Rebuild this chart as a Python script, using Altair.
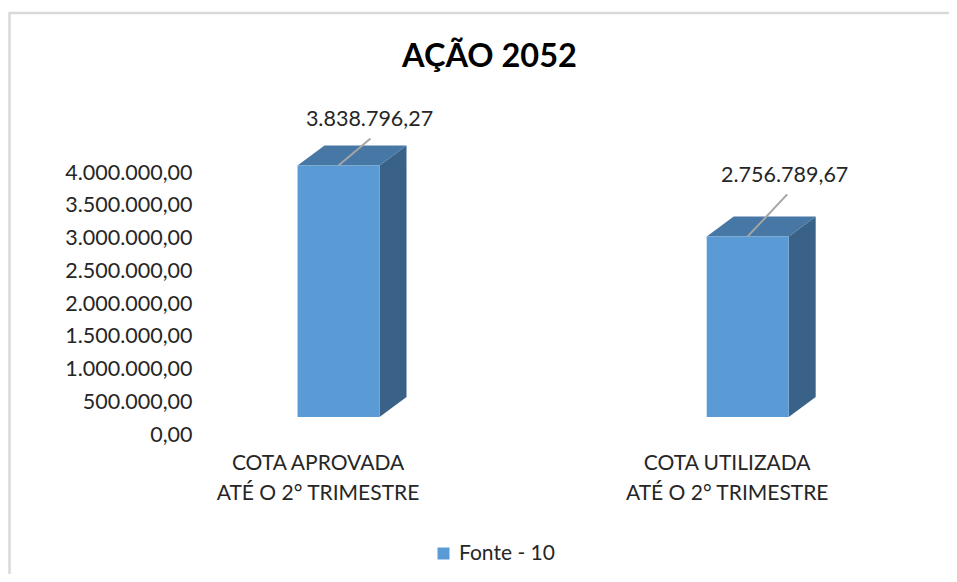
import json
import altair as alt
import pandas as pd

# ---------------- data ----------------
TITLE = "AÇÃO 2052"
CATEGORIES = [["COTA APROVADA", "ATÉ O 2° TRIMESTRE"],
              ["COTA UTILIZADA", "ATÉ O 2° TRIMESTRE"]]
VALUES = [3838796.27, 2756789.67]
SERIES = "Fonte - 10"
Y_TICKS = [0, 500000, 1000000, 1500000, 2000000, 2500000, 3000000, 3500000, 4000000]

# ---------------- layout / style ----------------
W, H = 741, 262
PAD = {"left": 191, "top": 165, "right": 9, "bottom": 139}
X_DOMAIN = [-0.341, 1.470]
Y_DOMAIN = [0, 4000000]
KX = W / (X_DOMAIN[1] - X_DOMAIN[0])      # px per x unit
KY = H / (Y_DOMAIN[1] - Y_DOMAIN[0])      # px per y unit
HALF_W_PX = 41
DEPTH_X_PX, DEPTH_Y_PX = 27, 20
LIFT_PX = 18
LEADER_END_PX = [(32, 27), (39.5, 42)]
LABEL_POS_PX = [(31, 46), (37, 60)]

FRONT = "#5B9BD5"
TOP = "#4677A5"
SIDE = "#3A6288"
TEXT = "#262626"
FONT = "Lato"
FS_NUM = 21.5
FS_TXT = 21

def br(v):
    return f"{v:,.2f}".replace(",", "#").replace(".", ",").replace("#", ".")

hw = HALF_W_PX / KX
ddx = DEPTH_X_PX / KX
ddy = DEPTH_Y_PX / KY

front_rows, side_rows, top_rows, lead_rows, lab_rows = [], [], [], [], []
for i, v in enumerate(VALUES):
    c = float(i)
    front_rows.append({"x0": c - hw, "x1": c + hw, "y0": 0.0, "y1": v, "serie": SERIES})
    side_rows += [
        {"bar": i, "x": c + hw, "lo": 0.0, "hi": v},
        {"bar": i, "x": c + hw + ddx, "lo": ddy, "hi": v + ddy},
    ]
    top_rows += [
        {"bar": i, "x": c - hw, "lo": v, "hi": v},
        {"bar": i, "x": c - hw + ddx, "lo": v, "hi": v + ddy},
        {"bar": i, "x": c + hw, "lo": v, "hi": v + ddy},
        {"bar": i, "x": c + hw + ddx, "lo": v + ddy, "hi": v + ddy},
    ]
    ex, ey = LEADER_END_PX[i]
    lead_rows.append({"x": c, "y": v, "x2": c + ex / KX, "y2": v + ey / KY})
    lx, ly = LABEL_POS_PX[i]
    lab_rows.append({"x": c + lx / KX, "y": v + ly / KY, "txt": br(v)})

front_df = pd.DataFrame(front_rows)
side_df = pd.DataFrame(side_rows)
top_df = pd.DataFrame(top_rows)
lead_df = pd.DataFrame(lead_rows)
lab_df = pd.DataFrame(lab_rows)

xs = alt.Scale(domain=X_DOMAIN, nice=False, zero=False)
ys = alt.Scale(domain=Y_DOMAIN, nice=False, zero=False)

fmt = "format(datum.value, ',.2f')"
s1 = f"join(split({fmt}, ','), '#')"
s2 = f"join(split({s1}, '.'), ',')"
y_label_expr = f"join(split({s2}, '#'), '.')"
x_label_expr = f"{json.dumps(CATEGORIES, ensure_ascii=False)}[round(datum.value)]"

y_axis = alt.Axis(values=Y_TICKS, labelExpr=y_label_expr, title=None, grid=False,
                  domain=False, ticks=False, tickSize=0, labelPadding=7,
                  labelFont=FONT, labelFontSize=FS_NUM, labelColor=TEXT, labelLimit=400)
x_axis = alt.Axis(values=list(range(len(VALUES))), labelExpr=x_label_expr, title=None,
                  grid=False, domain=False, ticks=False, tickSize=0, labelPadding=17,
                  labelOffset=-21, labelLineHeight=30, labelFont=FONT, labelFontSize=FS_TXT,
                  labelColor=TEXT, labelOverlap=False, labelFlush=False, labelLimit=400)

front = alt.Chart(front_df).mark_rect(yOffset=-LIFT_PX, y2Offset=-LIFT_PX).encode(
    x=alt.X("x0:Q", scale=xs, axis=x_axis),
    x2="x1:Q",
    y=alt.Y("y0:Q", scale=ys, axis=y_axis),
    y2="y1:Q",
    color=alt.Color("serie:N", scale=alt.Scale(domain=[SERIES], range=[FRONT]),
                    legend=alt.Legend(title=None, orient="none", legendX=234, legendY=370,
                                      symbolType="square", symbolSize=144,
                                      symbolStrokeWidth=0, labelFont=FONT,
                                      labelFontSize=FS_TXT, labelColor=TEXT,
                                      labelOffset=5, padding=0)),
)

side = alt.Chart(side_df).mark_area(color=SIDE, yOffset=-LIFT_PX, y2Offset=-LIFT_PX).encode(
    x=alt.X("x:Q", scale=xs, axis=x_axis),
    y=alt.Y("hi:Q", scale=ys, axis=y_axis, stack=False),
    y2="lo:Q",
    detail="bar:N",
)

top = alt.Chart(top_df).mark_area(color=TOP, yOffset=-LIFT_PX, y2Offset=-LIFT_PX).encode(
    x=alt.X("x:Q", scale=xs, axis=x_axis),
    y=alt.Y("hi:Q", scale=ys, axis=y_axis, stack=False),
    y2="lo:Q",
    detail="bar:N",
)

leaders = alt.Chart(lead_df).mark_rule(color="#A6A6A6", strokeWidth=2,
                                       yOffset=-LIFT_PX, y2Offset=-LIFT_PX).encode(
    x=alt.X("x:Q", scale=xs, axis=x_axis),
    y=alt.Y("y:Q", scale=ys, axis=y_axis),
    x2="x2:Q",
    y2="y2:Q",
)

labels = alt.Chart(lab_df).mark_text(font=FONT, fontSize=FS_NUM, color=TEXT, align="center",
                                     baseline="middle", yOffset=-LIFT_PX).encode(
    x=alt.X("x:Q", scale=xs, axis=x_axis),
    y=alt.Y("y:Q", scale=ys, axis=y_axis),
    text="txt:N",
)

frame_df = pd.DataFrame({"k": [0]})
frame_top = alt.Chart(frame_df).mark_rule(color="#D9D9D9", strokeWidth=2.5).encode(
    x=alt.value(-190), x2=alt.value(760), y=alt.value(-160), y2=alt.value(-160))
frame_left = alt.Chart(frame_df).mark_rule(color="#D9D9D9", strokeWidth=2.5).encode(
    x=alt.value(-189.5), x2=alt.value(-189.5), y=alt.value(-161), y2=alt.value(420))

chart = alt.layer(frame_top, frame_left, side, top, front, leaders, labels).properties(
    width=W, height=H,
    autosize=alt.AutoSizeParams(type="none"),
    padding=PAD,
    background="white",
    title=alt.TitleParams(TITLE, font=FONT, fontSize=32.5, fontWeight="bold", color="#000000",
                          anchor="middle", frame="group", dx=-80, offset=0, dy=89,
                          baseline="alphabetic"),
).configure_view(stroke=None)

chart.save("out.html", embed_options={"renderer": "svg", "actions": False})
